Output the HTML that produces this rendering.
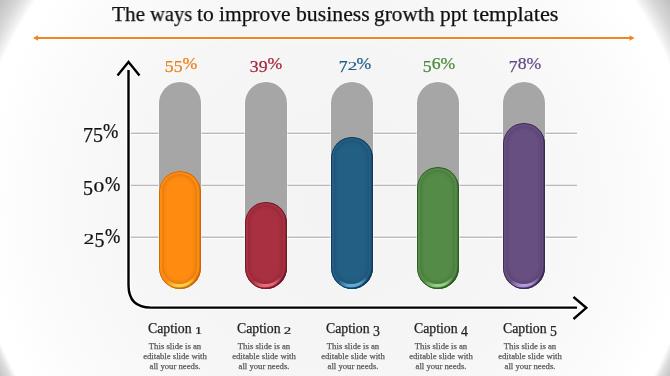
<!DOCTYPE html>
<html><head><meta charset="utf-8">
<style>
html,body{margin:0;padding:0;}
body{width:670px;height:376px;overflow:hidden;position:relative;
 font-family:"Liberation Serif",serif;
 background:radial-gradient(circle 400px at 335px 206px,#f3f3f3 0px,#f6f6f6 200px,#fbfbfb 300px,#ffffff 350px,#ffffff 363px,#f0f0f0 368px,#d8d8d8 378px,#c0c0c0 393px,#bbbbbb 400px) top/100% 190px no-repeat, radial-gradient(circle 400px at 335px 16px,#f3f3f3 0px,#f6f6f6 200px,#fbfbfb 300px,#ffffff 350px,#ffffff 361px,#dedede 367px,#c6c6c6 375px,#bdbdbd 385px,#bbbbbb 400px) bottom/100% 186px no-repeat;}
.abs{position:absolute;left:0;top:0;}
.tx{position:absolute;white-space:nowrap;line-height:1;will-change:transform;-webkit-text-stroke:0.25px currentColor;}
.dd{display:inline-block;transform:translateY(0.15em);}
.cap .dd{transform:translateY(0.19em);}
.dx{display:inline-block;transform:scale(1.08,0.74);transform-origin:50% 100%;}
.title{top:4.3px;font-size:21.4px;color:#111;}
.grey{position:absolute;width:42px;top:82px;height:207px;background:#a6a6a6;border-radius:21px;box-shadow:0 0 1px 0.5px rgba(255,255,255,0.85);}
.bar{position:absolute;width:42px;border-radius:21px;overflow:hidden;background:var(--m);}
.bar i{position:absolute;display:block;}
.bar .hl{left:0;right:0;bottom:0;height:30px;background:radial-gradient(ellipse 22px 13px at 60% 100%, var(--h) 0%, var(--h) 40%, transparent 100%);}
.bar .rg{left:3px;right:3.5px;top:3px;bottom:5px;border-radius:18px;background:var(--m);box-shadow:inset 0 0 4px 1px rgba(0,0,0,0.16);}
.bar .ol{left:0;right:0;top:0;bottom:0;border-radius:21px;box-shadow:inset 0 0 0 0.9px var(--o), inset -1.5px -1.5px 1.2px var(--o);}
.pct{width:80px;text-align:center;font-size:17.7px;top:54.6px;}
.ylab{font-size:20px;color:#111;}
.ylab .dx{margin:0 0.8px;}
.ylab .dd{transform:translateY(0.185em);}
.pc{display:inline-block;transform:scaleX(0.92);transform-origin:0 50%;}
.cap{width:100px;text-align:center;font-size:13.8px;color:#222;top:321.5px;}
.desc{width:100px;text-align:center;font-size:8.7px;color:#5a5a5a;line-height:10px;top:341.4px;}
</style></head><body>
<div class="tx title" style="left:111.50px;transform:scaleX(0.9938);transform-origin:0 0">The</div>
<div class="tx title" style="left:150.20px;transform:scaleX(0.9585);transform-origin:0 0">ways</div>
<div class="tx title" style="left:197.00px;transform:scaleX(1.0126);transform-origin:0 0">to</div>
<div class="tx title" style="left:218.70px;transform:scaleX(1.0028);transform-origin:0 0">improve</div>
<div class="tx title" style="left:295.50px;transform:scaleX(1.0167);transform-origin:0 0">business</div>
<div class="tx title" style="left:373.60px;transform:scaleX(0.9966);transform-origin:0 0">growth</div>
<div class="tx title" style="left:439.50px;transform:scaleX(1.0037);transform-origin:0 0">ppt</div>
<div class="tx title" style="left:472.70px;transform:scaleX(1.0431);transform-origin:0 0">templates</div>
<svg class="abs" width="670" height="376">
 <line x1="35" y1="38" x2="632" y2="38" stroke="#ffffff" stroke-width="4.6" opacity="0.85"/>
 <line x1="37" y1="38" x2="630" y2="38" stroke="#f0871c" stroke-width="2.2"/>
 <polygon points="33,38 38,35.2 38,40.8" fill="#f0871c"/>
 <polygon points="634.5,38 629.5,35.2 629.5,40.8" fill="#f0871c"/>
 <g fill="#ffffff" opacity="0.9"><rect x="128" y="131.6" width="449" height="1"/><rect x="128" y="134.0" width="449" height="1"/><rect x="128" y="183.7" width="449" height="1"/><rect x="128" y="186.1" width="449" height="1"/><rect x="128" y="235.5" width="449" height="1"/><rect x="128" y="237.9" width="449" height="1"/></g>
 <g fill="#b9b9b9"><rect x="128" y="132.6" width="449" height="1.4"/><rect x="128" y="184.7" width="449" height="1.4"/><rect x="128" y="236.5" width="449" height="1.4"/></g>
</svg>
<div class="grey" style="left:158.6px"></div>
<div class="grey" style="left:244.6px"></div>
<div class="grey" style="left:330.8px"></div>
<div class="grey" style="left:416.9px"></div>
<div class="grey" style="left:503.3px"></div>
<div class="bar" style="left:158.6px;top:171px;height:118px;--m:#ff8c10;--h:#ffd24a;--o:#c8680a"><i class="hl"></i><i class="rg"></i><i class="ol"></i></div>
<div class="bar" style="left:244.6px;top:202px;height:87px;--m:#a93040;--h:#ec6c7c;--o:#6e1a26"><i class="hl"></i><i class="rg"></i><i class="ol"></i></div>
<div class="bar" style="left:330.8px;top:137px;height:152px;--m:#235f85;--h:#62aede;--o:#0f3a58"><i class="hl"></i><i class="rg"></i><i class="ol"></i></div>
<div class="bar" style="left:416.9px;top:167px;height:122px;--m:#548c47;--h:#96d688;--o:#2c5a24"><i class="hl"></i><i class="rg"></i><i class="ol"></i></div>
<div class="bar" style="left:503.3px;top:123px;height:166px;--m:#674f82;--h:#b69ce0;--o:#3a2a52"><i class="hl"></i><i class="rg"></i><i class="ol"></i></div>
<svg class="abs" width="670" height="376">
 <g fill="none" stroke="#ffffff" stroke-width="5" opacity="0.9">
 <path d="M128.5 70 L128.5 285 Q128.5 307.6 151 307.6 L577 307.6"/>
 <path d="M117.5 75.5 L128.5 62 L139.5 75.5"/>
 <path d="M573.5 297 L586.3 307.8 L573.5 319"/>
 </g>
 <g fill="none" stroke="#000" stroke-width="2.4">
 <path d="M128.5 70 L128.5 285 Q128.5 307.6 151 307.6 L577 307.6"/>
 <path d="M117.5 75.5 L128.5 62 L139.5 75.5"/>
 <path d="M573.5 297 L586.3 307.8 L573.5 319"/>
 </g>
</svg>
<div class="tx pct" style="left:140.8px;color:#e8801a"><span class="dd">5</span><span class="dd">5</span>%</div>
<div class="tx pct" style="left:226.4px;color:#a3253a"><span class="dd">3</span><span class="dd">9</span>%</div>
<div class="tx pct" style="left:314.6px;color:#1f5d86"><span class="dd">7</span><span class="dx">2</span>%</div>
<div class="tx pct" style="left:399.1px;color:#4a8a3c"><span class="dd">5</span>6%</div>
<div class="tx pct" style="left:485.3px;color:#634a85"><span class="dd">7</span>8%</div>
<div class="tx ylab" style="left:82.5px;top:121.2px"><span class="dd">7</span><span class="dd">5</span><span class="pc">%</span></div>
<div class="tx ylab" style="left:82.5px;top:173.6px"><span class="dd">5</span><span class="dx">0</span><span class="pc">%</span></div>
<div class="tx ylab" style="left:82.5px;top:225.5px"><span class="dx">2</span><span class="dd">5</span><span class="pc">%</span></div>
<div class="tx cap" style="left:124.5px">Caption <span class="dx">1</span></div>
<div class="tx desc" style="left:124.5px">This slide is an<br>editable slide with<br>all your needs.</div>
<div class="tx cap" style="left:214.0px">Caption <span class="dx">2</span></div>
<div class="tx desc" style="left:214.0px">This slide is an<br>editable slide with<br>all your needs.</div>
<div class="tx cap" style="left:302.5px">Caption <span class="dd">3</span></div>
<div class="tx desc" style="left:302.5px">This slide is an<br>editable slide with<br>all your needs.</div>
<div class="tx cap" style="left:391.0px">Caption <span class="dd">4</span></div>
<div class="tx desc" style="left:391.0px">This slide is an<br>editable slide with<br>all your needs.</div>
<div class="tx cap" style="left:480.0px">Caption <span class="dd">5</span></div>
<div class="tx desc" style="left:480.0px">This slide is an<br>editable slide with<br>all your needs.</div>
</body></html>
